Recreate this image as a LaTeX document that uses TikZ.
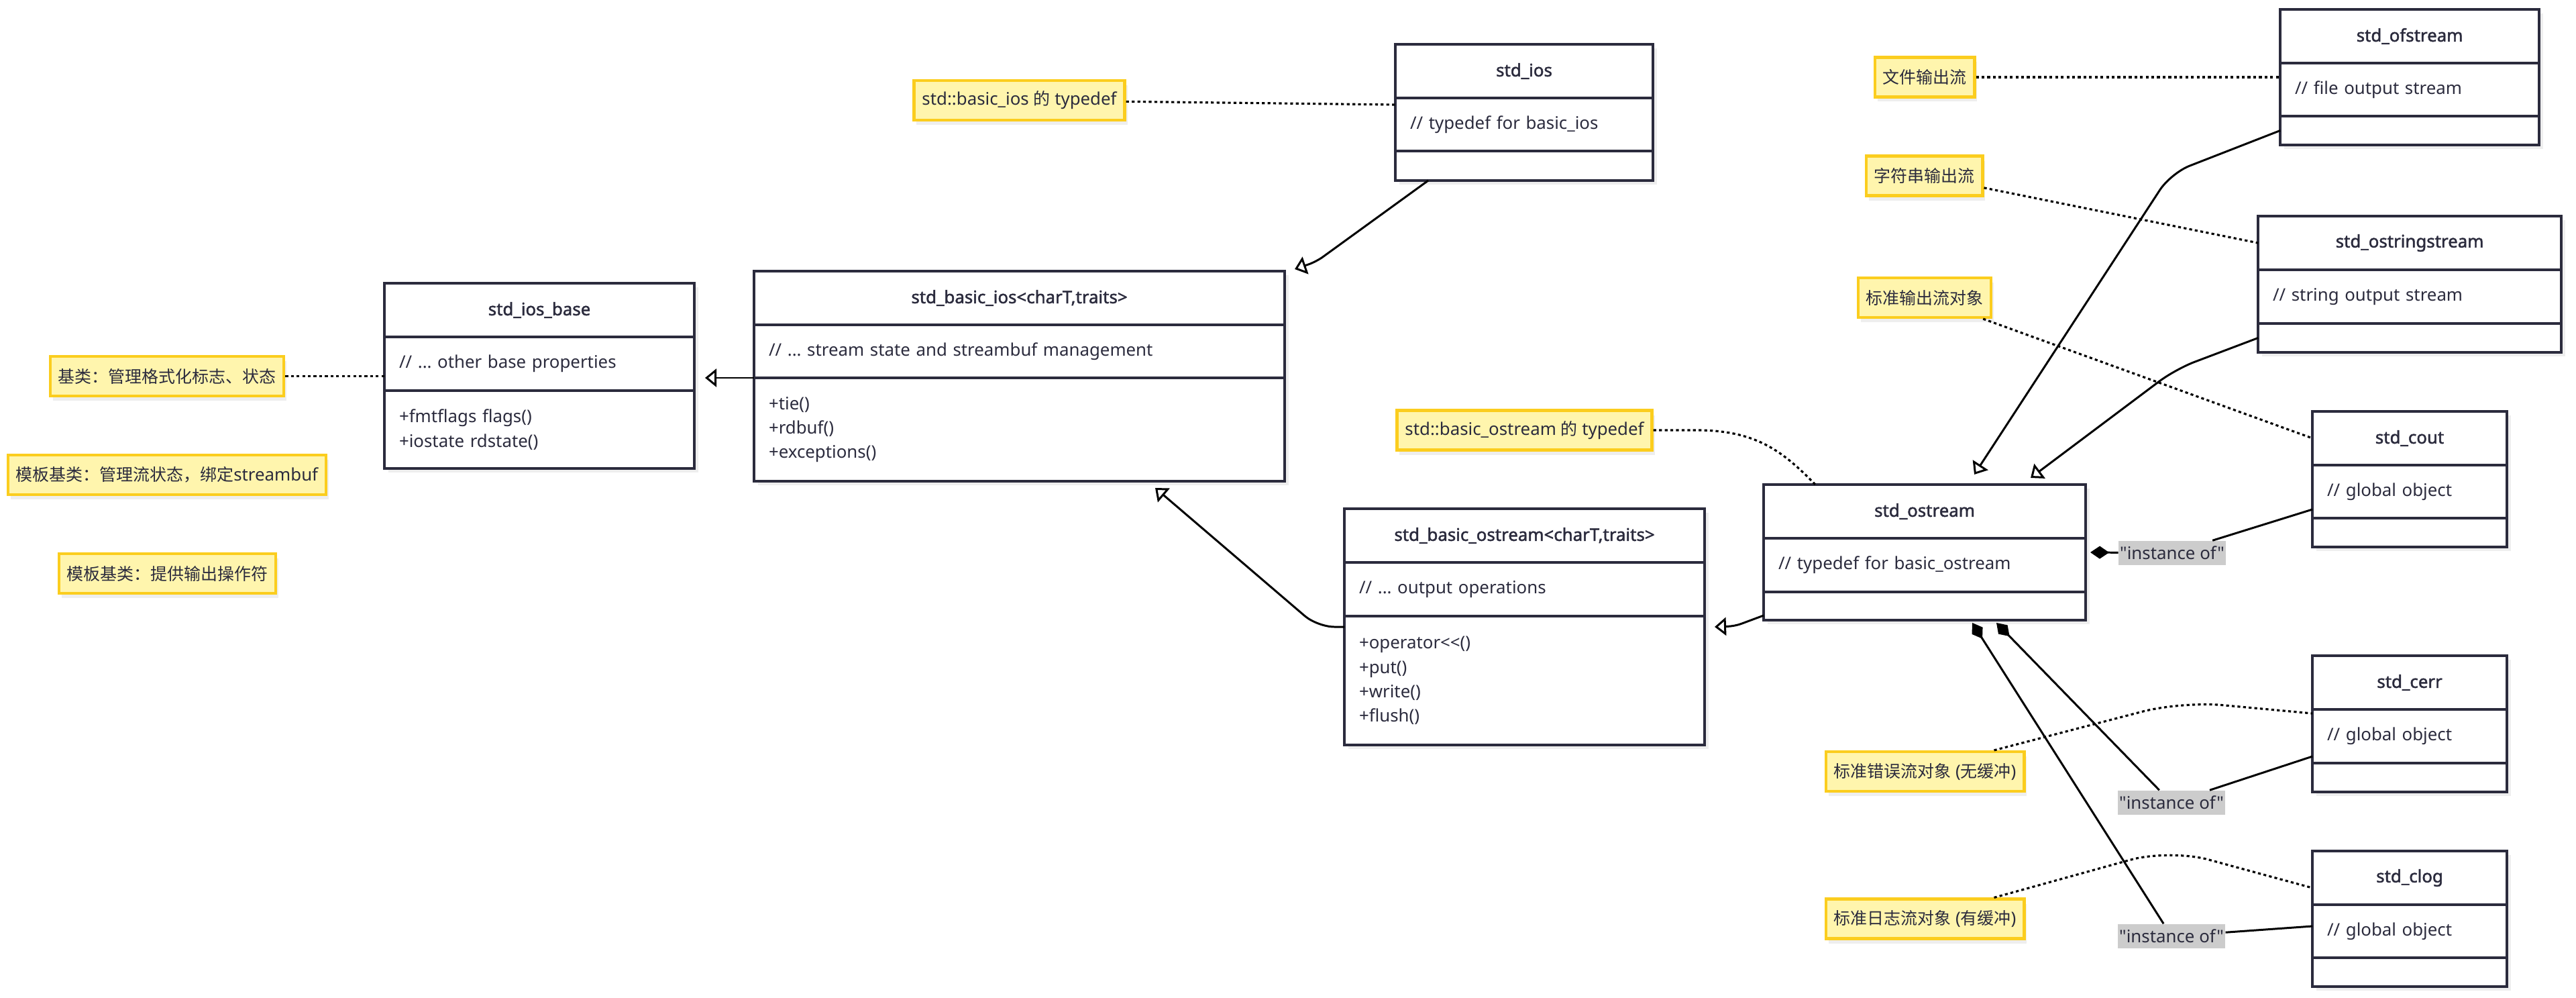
\documentclass[tikz,border=0pt]{standalone}
\usepackage{fontspec}
\newfontfamily\uifont{Noto Sans}
\newfontfamily\uibold{Noto Sans}[FakeBold=1.8]
\newfontfamily\cjk{Noto Sans CJK SC}
\usepackage{tikz}
\usetikzlibrary{positioning,calc,shapes,arrows.meta,shadows}
\newcommand{\basefont}{\uifont\fontsize{7.35pt}{8.8pt}\selectfont\frenchspacing}
\newcommand{\headfont}{\uibold\fontsize{7.35pt}{8.8pt}\selectfont\frenchspacing}
\newcommand{\listfont}{\uifont\fontsize{7.35pt}{10.35pt}\selectfont\frenchspacing}
\newcommand{\zh}[1]{{\cjk\fontsize{7.1pt}{8.8pt}\selectfont#1}}
\definecolor{ink}{HTML}{2B2B3D}
\definecolor{notefill}{HTML}{FFF5AD}
\definecolor{noteline}{HTML}{FBCD1E}
\definecolor{lblfill}{HTML}{CCCCCC}
\definecolor{shade}{HTML}{EEEEEE}
\tikzset{
  box/.style={draw=ink, line width=1.1pt, fill=white, outer sep=0pt, inner xsep=0.22cm, inner ysep=0pt,
    drop shadow={shadow xshift=0.06cm, shadow yshift=-0.06cm, fill=shade, opacity=1}},
  head/.style={box, minimum height=0.8cm, font=\headfont},
  body/.style={box, align=left},
  list/.style={body, font=\listfont},
  note/.style={draw=noteline, line width=1.2pt, fill=notefill, minimum height=0.59cm, inner xsep=0.12cm,
    inner ysep=0pt, font=\basefont,
    drop shadow={shadow xshift=0.04cm, shadow yshift=-0.07cm, fill=shade, opacity=1}},
  inst/.style={fill=lblfill, inner xsep=0.02cm, inner ysep=0pt, minimum height=0.36cm},
  link/.style={line width=0.9pt, dash pattern=on 1.2pt off 1.2pt},
  wire/.style={line width=0.85pt},
  extends/.style={wire, -{Triangle[open, length=0.17cm, width=0.27cm]}},
  partof/.style={wire, {Diamond[length=0.28cm, width=0.19cm]}-},
}
\begin{document}
\begin{tikzpicture}[y=-1cm, font=\basefont, text=ink]
  \fill[white] (0,0) rectangle (38.40,14.87);
  \useasboundingbox (0,0) rectangle (38.40,14.87);
  % classes
  \node[head, minimum width=4.62cm] (base) at (8.04,4.62) {std\_ios\_base};
  \node[body, text width=4.18cm, minimum height=0.80cm, below=0pt of base] (baseA) {// ... other base properties};
  \node[list, text width=4.18cm, minimum height=1.16cm, below=0pt of baseA] (baseM) {+fmtflags flags()\\+iostate rdstate()};
  \node[head, minimum width=7.91cm] (bios) at (15.195,4.44) {std\_basic\_ios<charT,traits>};
  \node[body, text width=7.47cm, minimum height=0.79cm, below=0pt of bios] (biosA) {// ... stream state and streambuf management};
  \node[list, text width=7.47cm, minimum height=1.54cm, below=0pt of biosA] (biosM) {+tie()\\+rdbuf()\\+exceptions()};
  \node[head, minimum width=3.84cm] (ios) at (22.72,1.06) {std\_ios};
  \node[body, text width=3.40cm, minimum height=0.79cm, below=0pt of ios] (iosA) {// typedef for basic\_ios};
  \node[body, text width=3.40cm, minimum height=0.44cm, below=0pt of iosA] (iosM) {};
  \node[head, minimum width=5.37cm] (bost) at (22.725,7.98) {std\_basic\_ostream<charT,traits>};
  \node[body, text width=4.93cm, minimum height=0.80cm, below=0pt of bost] (bostA) {// ... output operations};
  \node[list, text width=4.93cm, minimum height=1.92cm, below=0pt of bostA] (bostM) {+operator<{}<()\\+put()\\+write()\\+flush()};
  \node[head, minimum width=4.80cm] (ost) at (28.69,7.62) {std\_ostream};
  \node[body, text width=4.36cm, minimum height=0.80cm, below=0pt of ost] (ostA) {// typedef for basic\_ostream};
  \node[body, text width=4.36cm, minimum height=0.42cm, below=0pt of ostA] (ostM) {};
  \node[head, minimum width=3.86cm] (ofs) at (35.92,0.54) {std\_ofstream};
  \node[body, text width=3.42cm, minimum height=0.79cm, below=0pt of ofs] (ofsA) {// file output stream};
  \node[body, text width=3.42cm, minimum height=0.43cm, below=0pt of ofsA] (ofsM) {};
  \node[head, minimum width=4.52cm] (oss) at (35.92,3.62) {std\_ostringstream};
  \node[body, text width=4.08cm, minimum height=0.80cm, below=0pt of oss] (ossA) {// string output stream};
  \node[body, text width=4.08cm, minimum height=0.43cm, below=0pt of ossA] (ossM) {};
  \node[head, minimum width=2.90cm] (cout) at (35.92,6.53) {std\_cout};
  \node[body, text width=2.46cm, minimum height=0.79cm, below=0pt of cout] (coutA) {// global object};
  \node[body, text width=2.46cm, minimum height=0.43cm, below=0pt of coutA] (coutM) {};
  \node[head, minimum width=2.90cm] (cerr) at (35.92,10.17) {std\_cerr};
  \node[body, text width=2.46cm, minimum height=0.80cm, below=0pt of cerr] (cerrA) {// global object};
  \node[body, text width=2.46cm, minimum height=0.43cm, below=0pt of cerrA] (cerrM) {};
  \node[head, minimum width=2.90cm] (clog) at (35.92,13.08) {std\_clog};
  \node[body, text width=2.46cm, minimum height=0.79cm, below=0pt of clog] (clogA) {// global object};
  \node[body, text width=2.46cm, minimum height=0.43cm, below=0pt of clogA] (clogM) {};
  % notes
  \node[note] (nbase) at (2.49,5.605) {\zh{基类：管理格式化标志、状态}};
  \node[note] (nbios) at (2.49,7.075) {\zh{模板基类：管理流状态，绑定}streambuf};
  \node[note] (nbost) at (2.495,8.545) {\zh{模板基类：提供输出操作符}};
  \node[note] (nios) at (15.195,1.495) {std::basic\_ios \zh{的} typedef};
  \node[note] (nost) at (22.725,6.41) {std::basic\_ostream \zh{的} typedef};
  \node[note] (nofs) at (28.69,1.15) {\zh{文件输出流}};
  \node[note] (noss) at (28.685,2.62) {\zh{字符串输出流}};
  \node[note] (ncout) at (28.69,4.435) {\zh{标准输出流对象}};
  \node[note] (ncerr) at (28.695,11.495) {\zh{标准错误流对象} (\zh{无缓冲})};
  \node[note] (nclog) at (28.695,13.69) {\zh{标准日志流对象} (\zh{有缓冲})};
  % edge labels
  \node[inst] (i1) at (32.38,8.24) {"instance of"};
  \node[inst] (i2) at (32.37,11.96) {"instance of"};
  \node[inst] (i3) at (32.37,13.95) {"instance of"};
  % inheritance
  \draw[extends, rounded corners=0.12cm] ($(iosM.south west)+(0.49,0)$) -- (19.62,3.90) -- ($(bios.north east)+(0.15,-0.03)$);
  \draw[extends] (biosA.south west) -- ($(baseA.east |- biosA.south west)+(0.16,0)$);
  \draw[extends, rounded corners=0.25cm] ($(bostM.north west)+(0,0.16)$) -- ++(-0.40,0) -- ($(biosM.south east)+(-1.93,0.10)$);
  \draw[extends, rounded corners=0.1cm] ($(ostM.south west)+(0,-0.07)$) -- ++(-0.43,0.16) -- ($(bostM.north east)+(0.15,0.16)$);
  \draw[extends, rounded corners=0.3cm] (ofsM.west) -- (32.36,2.58) -- ($(ost.north west)+(3.14,-0.15)$);
  \draw[extends, rounded corners=0.3cm] (ossM.west) -- (32.43,5.50) -- ($(ost.north west)+(3.98,-0.10)$);
  % instances
  \draw[wire] ($(coutA.south west)+(0,-0.13)$) -- (i1);
  \draw[partof] ($(ostA.north east)+(0.07,0.21)$) -- (i1);
  \draw[wire] ($(cerrA.south west)+(0,-0.10)$) -- (i2);
  \draw[partof] ($(ostM.south west)+(3.47,0.04)$) -- (i2);
  \draw[wire] ($(clogA.south west)+(0,-0.47)$) -- (i3);
  \draw[partof] ($(ostM.south west)+(3.11,0.04)$) -- (i3);
  % note links
  \draw[link] (nbase) -- (nbase -| baseA.west);
  \draw[link] (nios) -- ($(iosA.north west)+(0,0.10)$);
  \draw[link] (nost.east) -- ++(0.65,0) .. controls (26.2,6.41) and (26.6,6.75) .. ($(ost.north west)+(0.77,0)$);
  \draw[link] (nofs) -- (nofs -| ofsA.west);
  \draw[link] (noss) -- (oss.west);
  \draw[link] (ncout) -- (cout.west);
  \draw[link, rounded corners=0.6cm] ($(ncerr.north)+(1.03,0)$) -- (32.52,10.45) -- ($(cerrA.north west)+(0,0.06)$);
  \draw[link, rounded corners=0.6cm] ($(nclog.north)+(1.03,0)$) -- (32.34,12.65) -- ($(clog.west)+(0,0.15)$);
\end{tikzpicture}
\end{document}
